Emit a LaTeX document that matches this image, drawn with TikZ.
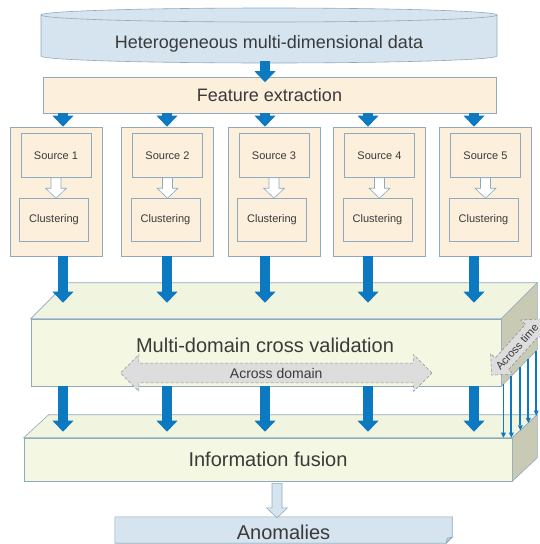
\documentclass[tikz,border=0pt]{standalone}
\usepackage{fontspec}
\setmainfont{Liberation Sans}
\usetikzlibrary{arrows.meta,positioning,calc,shapes.arrows}
\definecolor{dbblue}{HTML}{D5E4EF}
\definecolor{peach}{HTML}{FCEFDC}
\definecolor{frame}{HTML}{8DAAC0}
\definecolor{slab}{HTML}{F4F7E1}
\definecolor{slabtop}{HTML}{F1F4DF}
\definecolor{slabside}{HTML}{C9CAB4}
\definecolor{flow}{HTML}{0C79C0}
\definecolor{txt}{HTML}{3A3A3A}
\definecolor{across}{HTML}{DDDDDD}
\begin{document}
\begin{tikzpicture}[x=1pt, y=1pt,
    every node/.style={text=txt},
    box/.style={draw=frame, fill=#1, line width=0.6pt, inner sep=0pt},
    box/.default=peach,
    fsize/.style={font=\fontsize{#1}{#1}\selectfont},
    bigarrow/.style={draw=flow, line width=10pt, -{Triangle[width=21pt, length=11pt, line width=0pt]}},
    thinarrow/.style={draw=flow, color=flow, line width=1.8pt, -{Triangle[width=5pt, length=5pt, line width=0pt]}},
    hollow/.style={draw=frame, fill=white, line width=0.6pt,
        to path={let \p1=(\tikztostart), \p2=(\tikztotarget) in
            (\x1-5pt,\y1) -- (\x1+5pt,\y1) -- (\x1+5pt,\y2+10pt) -- (\x1+10.5pt,\y2+10pt)
            -- (\x1,\y2) -- (\x1-10.5pt,\y2+10pt) -- (\x1-5pt,\y2+10pt) -- cycle}},
    acrossarrow/.style={double arrow, draw=gray!85, dash pattern=on 3pt off 2pt, fill=across,
        line width=0.6pt, inner xsep=0pt}
]
\useasboundingbox (0,0) rectangle (540,-544);

% data store
\path[box=dbblue] (41,-15) -- (41,-56) arc[start angle=180, end angle=360, x radius=228, y radius=7]
    -- (497,-15) arc[start angle=0, end angle=180, x radius=228, y radius=7] -- cycle;
\draw[frame, line width=0.6pt] (41,-15) arc[start angle=180, end angle=360, x radius=228, y radius=7];
\node[fsize=18] (data) at (269,-44) {Heterogeneous multi-dimensional data};
\coordinate (dbbase) at (265,-61);

\node[box, fsize=18, minimum width=453, minimum height=35.5] (fe) at (269.5,-95.25) {Feature extraction};
\draw[bigarrow] (dbbase) -- ($(dbbase |- fe.north)+(0,-5)$);

% sources
\foreach \i/\x/\ax in {1/56/63, 2/167.5/167, 3/274/265, 4/379.5/368, 5/485.5/474} {
    \node[box, minimum width=92, minimum height=129] (c\i) at (\x,-191.5) {};
    \node[box, fsize=11, minimum width=70, minimum height=44] (s\i) at (\x,-155.5) {Source \i};
    \node[box, fsize=11, minimum width=69, minimum height=43] (k\i) at (\x-2,-220) {Clustering};
    \draw[hollow] (s\i.south) to (s\i.south |- k\i.north);
    \coordinate (a\i) at (\ax,-113);
}
\foreach \i in {1,...,5}
    \draw[bigarrow] (a\i |- fe.south) -- (a\i |- c\i.north);

% cross validation slab
\node[box=slab, minimum width=470, minimum height=67] (mdcv) at (266,-352.5) {};
\path[box=slabtop] (mdcv.north west) -- ++(36,36) -- ($(mdcv.north east)+(36,36)$) -- (mdcv.north east) -- cycle;
\path[box=slabside] (mdcv.north east) -- ++(36,36) -- ++(0,-67) -- (mdcv.south east) -- cycle;
\coordinate (mdcvbr) at ($(mdcv.south east)+(36,36)$);
\node[fsize=20] (mdcvtxt) at (265,-345) {Multi-domain cross validation};
\node[acrossarrow, fsize=14, inner ysep=4.5pt, minimum height=311.5, double arrow head extend=8.5pt] (dom) at (276.25,-373) {Across domain};
\foreach \i in {1,...,5}
    \draw[bigarrow] (a\i |- c\i.south) -- ($(a\i |- mdcv.north)+(0,16)$);

% fusion slab
\node[box=slab, fsize=20, minimum width=488, minimum height=43] (fusion) at (268,-459.5) {Information fusion};
\path[box=slabtop] (fusion.north west) -- ++(25,23) -- ($(fusion.north east)+(25,23)$) -- (fusion.north east) -- cycle;
\path[box=slabside] (fusion.north east) -- ++(25,23) -- ++(0,-43) -- (fusion.south east) -- cycle;
\coordinate (fusiontr) at ($(fusion.north east)+(25,23)$);
\foreach \i in {1,...,5}
    \draw[bigarrow] (a\i |- mdcv.south) -- ($(a\i |- fusion.north)+(0,6)$);

\foreach \t/\u [count=\n] in {0.06/0, 0.28/0, 0.53/0.32, 0.75/0.64, 0.97/0.96} {
    \coordinate (tt\n) at ($(mdcv.south east)!\t!(mdcvbr)$);
    \coordinate (tb\n) at ($(fusion.north east)!\u!(fusiontr)$);
    \draw[thinarrow] (tt\n) -- (tt\n |- tb\n);
}
\node[acrossarrow, fsize=11, inner ysep=4.5pt, minimum height=74, double arrow head extend=6.5pt, rotate=48] (time) at (517,-347) {Across time};

% result
\node[minimum width=337, minimum height=26, inner sep=0pt] (anom) at (283.5,-530) {};
\path[box=dbblue] (anom.north west) -- (anom.north east) -- ($(anom.south east)+(0,6)$)
    -- ($(anom.south east)+(-6,0)$) -- (anom.south west) -- cycle;
\path[box=dbblue!75!gray] ($(anom.south east)+(0,6)$) -- ($(anom.south east)+(-6,0)$) -- ($(anom.south east)+(-5,5)$) -- cycle;
\node[fsize=20] (anomtxt) at ($(anom)+(0,-2)$) {Anomalies};
\draw[hollow, fill=dbblue] ($(anom.north |- fusion.south)+(-6.5,-2)$) to ($(anom.north)+(-6.5,-1)$);
\end{tikzpicture}
\end{document}
